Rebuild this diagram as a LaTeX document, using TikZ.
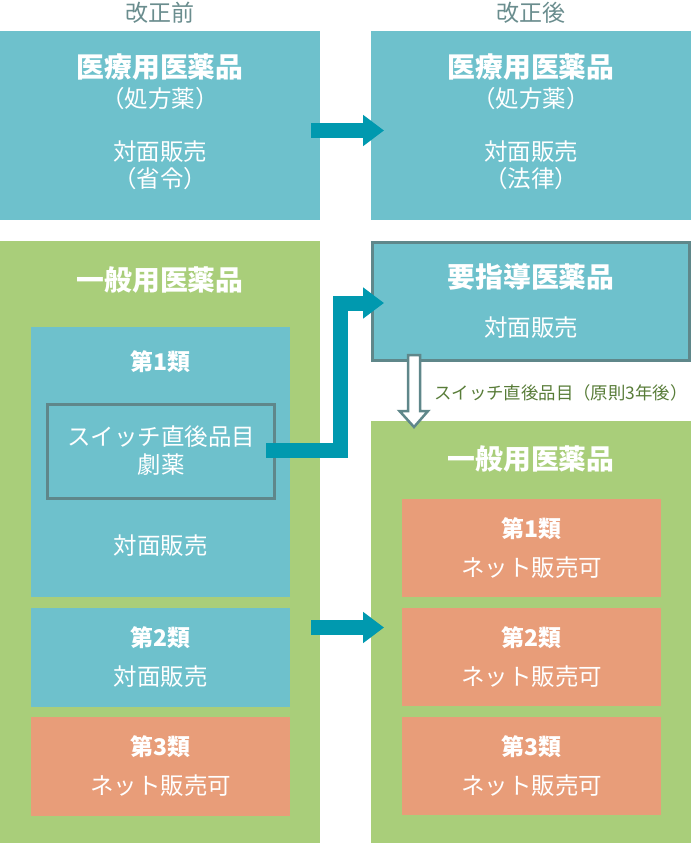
\documentclass[tikz,border=0pt]{standalone}
\usepackage{fontspec}
\setmainfont{Noto Sans CJK JP}
\usetikzlibrary{arrows.meta}
\usetikzlibrary{positioning}

\definecolor{boxteal}{HTML}{6EC1CC}
\definecolor{boxgreen}{HTML}{A9CE7A}
\definecolor{boxorange}{HTML}{E89D79}
\definecolor{arrowteal}{HTML}{0099AF}
\definecolor{framegray}{HTML}{5F878A}
\definecolor{headgray}{HTML}{6A8D8E}
\definecolor{notegreen}{HTML}{587C38}

\newcommand{\titlesize}{\fontsize{27.8}{32}\selectfont\bfseries}
\newcommand{\subsize}{\fontsize{23}{28}\selectfont\bfseries}
\newcommand{\bodysize}{\fontsize{23.5}{28}\selectfont}

\tikzset{
  panel/.style={fill=#1, inner sep=0pt, outer sep=0pt, anchor=north west},
  framed/.style={draw=framegray, line width=3pt, fill=boxteal, inner sep=0pt},
  txt/.style={text=white, inner sep=0pt, font=\bodysize},
  ttl/.style={text=white, inner sep=0pt, font=\titlesize},
  sub/.style={text=white, inner sep=0pt, font=\subsize},
  fatarrow/.style={draw=arrowteal, line width=15pt, line join=miter,
    -{Triangle[width=30pt,length=21pt]}},
}

\begin{document}
\begin{tikzpicture}[x=1pt,y=-1pt]
\useasboundingbox (0,0) rectangle (691,843);
% headers
\node[text=headgray, inner sep=0pt, font=\fontsize{23}{26}\selectfont] (before) at (160,13) {改正前};
\node[text=headgray, inner sep=0pt, font=\fontsize{23}{26}\selectfont] (after) at (531,13) {改正後};

% prescription drugs
\node[panel=boxteal, minimum width=320pt, minimum height=189pt] (rxold) at (0,31) {};
\node[panel=boxteal, minimum width=320pt, minimum height=189pt] (rxnew) at (371,31) {};
\node[ttl] (rxoldt) at (160,67) {医療用医薬品};
\node[txt] (rxolda) at (160,99) {（処方薬）};
\node[txt] (rxoldb) at (160,152) {対面販売};
\node[txt] (rxoldc) at (160,179) {（省令）};
\node[ttl] (rxnewt) at (531,67) {医療用医薬品};
\node[txt] (rxnewa) at (531,99) {（処方薬）};
\node[txt] (rxnewb) at (531,152) {対面販売};
\node[txt] (rxnewc) at (531,179) {（法律）};

% OTC before
\node[panel=boxgreen, minimum width=320pt, minimum height=602pt] (otcold) at (0,241) {};
\node[ttl] (otcoldt) at (160,280) {一般用医薬品};
\node[panel=boxteal, minimum width=259pt, minimum height=270pt] (cls1) at (31,327) {};
\node[sub] (cls1t) at (160.5,362) {第1類};
\node[framed, minimum width=227pt, minimum height=94pt] (switch) at (161,451.5) {};
\node[txt] (switcha) at (161,437) {スイッチ直後品目};
\node[txt] (switchb) at (161,465) {劇薬};
\node[txt] (cls1b) at (160.5,546) {対面販売};
\node[panel=boxteal, minimum width=259pt, minimum height=99pt] (cls2) at (31,608) {};
\node[sub] (cls2t) at (160.5,638) {第2類};
\node[txt] (cls2b) at (160.5,677) {対面販売};
\node[panel=boxorange, minimum width=259pt, minimum height=99pt] (cls3) at (31,717) {};
\node[sub] (cls3t) at (160.5,747) {第3類};
\node[txt] (cls3b) at (160.5,786) {ネット販売可};

% guidance drugs
\node[framed, minimum width=317pt, minimum height=118pt] (guide) at (531,301.5) {};
\node[ttl] (guidet) at (531,277) {要指導医薬品};
\node[txt] (guideb) at (531,328) {対面販売};

% OTC after
\node[panel=boxgreen, minimum width=320pt, minimum height=422pt] (otcnew) at (371,421) {};
\node[ttl] (otcnewt) at (531,459) {一般用医薬品};
\foreach \k/\y in {1/499,2/608,3/717}
{
\node[panel=boxorange, minimum width=259pt, minimum height=98pt] (new\k) at (402,\y) {};
\node[sub] (new\k t) at (531.5,\y+30) {第\k 類};
\node[txt] (new\k b) at (531.5,\y+69) {ネット販売可};
}

% arrows
\coordinate (a1s) at (311,130.5);
\coordinate (a1e) at (384,130.5);
\draw[fatarrow] (a1s) -- (a1e);
\coordinate (a2s) at (266,450.5);
\coordinate (a2e) at (384,303);
\draw[fatarrow] (a2s) -- ++(74,0) |- (a2e);
\coordinate (a3s) at (311,627.5);
\coordinate (a3e) at (384,627.5);
\draw[fatarrow] (a3s) -- (a3e);

% after three years
\coordinate (sw) at (414,355);
\draw[draw=framegray, fill=white, line width=2.5pt, line join=miter]
  (sw) ++(-6,0) -- ++(12,0) -- ++(0,56) -- ++(8,0) -- (414,427)
  -- (399.5,411) -- (408,411) -- cycle;
\node[text=notegreen, inner sep=0pt, font=\fontsize{17.4}{20}\selectfont] (switchnote) at (561,393) {スイッチ直後品目（原則3年後）};
\end{tikzpicture}
\end{document}
